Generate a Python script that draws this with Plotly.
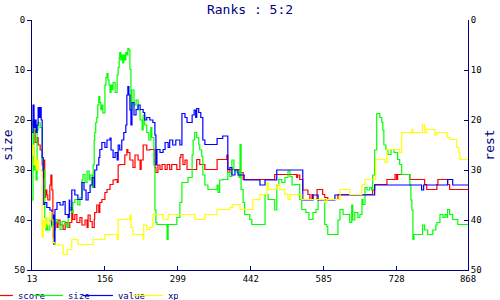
import plotly.graph_objects as go

# ---- data (turn number vs. rank) ----
score_x = [13,15,17,19,23,25,29,33,35,37,38,40,42,44,48,50,52,54,56,58,62,64,68,74,78,82,87,91,93,97,
           101,107,111,117,121,123,127,131,135,136,140,144,146,150,156,160,166,172,176,180,182,185,195,199,201,205,211,215,221,225,
           227,231,238,244,254,256,260,264,268,274,278,283,287,297,303,305,309,313,317,336,342,352,376,395,397,401,421,427,489,532,
           534,538,544,554,558,562,564,572,583,587,593,613,681,685,709,725,728,730,754,783,787,807,809,828,832,868]
score = [21.0,20.3,22.0,24.5,23.5,25.0,26.0,29.0,31.5,28.0,35.5,34.0,35.0,36.0,33.0,31.0,34.0,43.5,42.0,40.5,
         41.5,40.0,41.0,41.9,40.5,41.5,40.5,38.0,39.9,38.9,40.5,39.5,41.0,40.0,41.5,39.0,40.3,41.5,39.9,38.5,
         37.0,38.5,36.5,35.9,34.5,33.9,32.9,32.0,31.9,32.5,29.0,28.9,27.0,25.9,26.5,28.0,29.5,27.0,28.0,29.9,
         28.0,25.0,26.0,25.9,29.5,30.5,29.0,29.9,28.9,29.9,28.9,29.9,28.9,29.9,27.5,26.9,28.9,28.0,29.9,27.9,
         28.9,29.9,27.9,27.0,30.5,29.9,30.5,31.9,30.9,31.5,31.0,31.9,34.0,34.9,35.9,34.9,35.9,33.9,34.9,35.5,
         35.9,34.9,34.0,32.9,31.9,30.9,31.9,30.9,31.9,32.9,33.9,32.9,31.9,32.9,33.9,33.9]

size_x = [13,15,17,19,21,23,25,29,33,35,38,40,42,44,48,52,58,62,68,72,78,82,84,87,91,93,97,103,107,111,
          113,117,121,125,127,131,133,135,136,138,140,142,144,146,148,150,152,156,158,160,162,164,166,168,170,172,176,180,182,184,
          185,187,189,191,193,195,197,199,201,203,205,207,209,213,217,221,225,229,231,234,238,242,246,248,252,254,256,258,278,280,
          297,303,307,319,327,329,332,336,340,342,346,348,352,358,376,378,381,387,397,401,405,409,415,419,421,423,427,430,440,444,
          470,476,489,493,497,503,509,515,519,523,528,538,542,550,556,564,570,574,587,591,593,613,617,623,636,640,642,646,652,656,
          660,662,666,670,675,679,681,685,689,695,699,701,703,707,711,717,723,730,734,738,754,756,758,760,762,779,783,789,799,805,
          807,813,819,823,827,828,832,838,848,868]
size = [36.0,20.0,30.0,28.5,32.0,22.0,20.5,21.5,28.0,30.0,39.5,42.0,41.0,42.0,40.0,41.5,39.9,40.5,41.9,40.3,
        40.8,41.5,39.0,37.5,38.5,36.5,35.9,37.0,35.5,32.0,30.9,32.5,30.2,32.0,31.0,33.5,29.0,24.0,22.5,20.5,
        19.5,17.0,15.3,16.5,17.9,17.0,18.6,13.0,11.5,10.7,12.0,13.0,14.5,13.0,13.9,12.5,14.5,11.0,9.5,7.5,
        6.5,8.0,7.0,8.6,7.0,8.0,6.5,7.0,5.7,6.0,9.9,18.0,14.0,17.0,16.0,18.0,20.0,22.0,19.0,21.0,
        22.5,24.0,21.5,23.5,29.0,38.0,40.5,40.9,43.9,40.9,39.5,36.5,32.5,31.5,27.0,24.0,22.5,23.5,25.0,26.0,
        27.3,31.0,33.0,33.9,33.0,34.5,32.0,31.9,30.5,31.3,28.0,30.0,30.5,31.5,24.9,33.9,36.5,38.9,39.9,40.9,
        34.9,35.9,38.0,33.0,31.9,32.5,31.5,30.2,31.3,33.0,32.9,35.9,37.9,38.5,39.9,38.5,37.9,35.9,40.9,41.3,
        42.9,40.0,37.9,38.9,40.5,37.0,40.0,38.5,39.5,38.9,35.9,36.9,33.5,34.0,33.5,34.0,31.0,26.0,18.7,19.5,
        20.5,22.0,25.0,25.9,26.9,25.9,26.5,27.9,28.9,30.9,33.0,36.0,38.0,43.9,42.9,41.0,42.0,42.9,42.0,41.0,
        40.5,38.9,39.5,38.9,39.5,37.9,38.9,39.9,40.9,40.9]

value_x = [13,15,17,19,21,23,25,27,29,31,33,35,38,42,48,52,54,56,58,62,68,74,78,84,86,87,91,97,103,111,
           115,119,123,127,131,135,136,140,144,146,150,156,160,166,168,172,176,180,182,185,189,193,197,199,201,203,205,207,209,213,
           217,221,225,231,234,238,244,250,254,256,258,264,270,274,280,283,289,295,303,307,313,317,327,331,334,336,340,344,348,352,
           376,387,397,401,405,411,417,429,460,470,493,544,564,574,607,685,777,781,828,838,868]
value = [22.5,17.0,21.5,20.0,22.5,21.0,17.5,19.5,17.5,20.0,27.5,36.9,36.5,37.5,38.0,41.0,39.0,44.9,37.9,36.5,
         37.0,36.3,38.9,39.5,36.0,38.0,34.0,35.0,35.9,32.5,34.0,36.0,34.5,33.0,31.5,33.5,30.0,29.0,27.5,25.9,
         24.5,25.5,24.0,23.6,26.0,27.5,26.5,28.0,25.0,26.0,24.0,22.5,21.0,15.0,13.3,15.0,18.0,21.0,16.5,19.0,
         17.9,17.0,17.9,18.5,20.0,19.5,20.0,20.5,23.0,29.0,25.9,26.5,25.9,24.5,25.5,24.0,25.0,24.0,25.0,18.7,
         19.5,20.5,19.0,18.0,19.5,17.7,18.5,19.5,24.0,24.9,23.7,23.2,29.9,29.5,31.0,30.0,31.0,32.0,33.0,32.0,
         30.0,36.0,35.0,36.0,35.0,33.0,34.0,33.0,31.9,33.0,33.0]

xp_x = [13,15,17,19,21,23,25,31,33,35,38,40,44,48,52,54,58,74,82,91,
        103,133,156,180,182,205,207,211,231,232,238,244,250,270,280,332,352,376,401,407,
        421,446,460,474,476,493,499,509,515,519,542,587,591,617,636,660,666,687,705,709,
        734,738,758,760,779,783,787,803,807,827,832,846,850,852,868]
xp = [27.0,25.0,29.0,27.5,30.0,28.0,29.9,30.3,43.5,40.0,41.5,39.5,41.0,38.5,40.0,44.5,45.0,46.9,45.9,43.9,
      44.9,43.9,42.9,43.9,39.9,39.0,41.5,42.9,43.9,41.0,41.9,41.5,38.9,39.9,38.9,39.9,38.9,37.9,37.5,36.9,
      37.9,35.9,34.9,32.5,33.9,32.9,33.9,34.9,35.9,34.9,35.9,36.5,35.9,33.9,34.9,32.9,31.9,27.9,28.5,25.9,
      26.5,22.5,21.9,22.5,20.9,22.5,21.9,23.0,22.5,23.5,23.9,25.5,26.5,27.9,27.9]

x_ticks = [13, 156, 299, 442, 585, 728, 868]
y_ticks = [0, 10, 20, 30, 40, 50]

series = [
    ("score", score_x, score, "#ff0000"),
    ("size", size_x, size, "#00ff00"),
    ("value", value_x, value, "#0000ff"),
    ("xp", xp_x, xp, "#ffff00"),
]

NAVY = "#000080"
FONT = "DejaVu Sans Mono"

fig = go.Figure()
for name, xs, ys, col in series:
    assert len(xs) == len(ys), name
    fig.add_trace(go.Scatter(x=xs, y=ys, name=name, mode="lines",
                             line=dict(color=col, width=1.2, shape="hv")))
# empty trace so the right-hand "rest" axis is drawn
fig.add_trace(go.Scatter(x=[None], y=[None], yaxis="y2", showlegend=False,
                         hoverinfo="skip", mode="lines"))

fig.update_layout(
    width=500, height=300,
    margin=dict(l=32, r=32, t=20, b=30, autoexpand=False),
    paper_bgcolor="white", plot_bgcolor="white",
    font=dict(family=FONT, size=9, color="black"),
    title=dict(text="Ranks : 5:2", x=0.5, xanchor="center", y=1 - 9 / 300, yanchor="middle",
               font=dict(family=FONT, size=13, color=NAVY)),
    showlegend=True,
    legend=dict(orientation="h", x=-0.124, xanchor="left", y=-0.102, yanchor="middle",
                font=dict(family=FONT, size=9, color=NAVY), itemwidth=30,
                entrywidth=5, entrywidthmode="pixels", bgcolor="rgba(0,0,0,0)"),
    xaxis=dict(range=[13, 868], tickvals=x_ticks, ticktext=[str(v) for v in x_ticks],
               ticks="inside", ticklen=4, tickcolor=NAVY, showline=True, linecolor=NAVY,
               linewidth=1, showgrid=False, zeroline=False, automargin=False,
               tickfont=dict(size=9, color="black")),
    yaxis=dict(range=[50, 0], tickvals=y_ticks, ticks="outside", ticklen=4, tickcolor=NAVY,
               showline=True, linecolor=NAVY, linewidth=1, showgrid=False, zeroline=False,
               automargin=False,
               title=dict(text="size", font=dict(family=FONT, size=13, color=NAVY), standoff=4),
               tickfont=dict(size=9, color="black")),
    yaxis2=dict(range=[50, 0], tickvals=y_ticks, ticks="inside", ticklen=4, tickcolor=NAVY,
                overlaying="y", side="right", showline=True, linecolor=NAVY, linewidth=1,
                showgrid=False, zeroline=False, automargin=False,
                title=dict(text="rest", font=dict(family=FONT, size=13, color=NAVY), standoff=4),
                tickfont=dict(size=9, color="black")),
)

fig.write_html("out.html")
